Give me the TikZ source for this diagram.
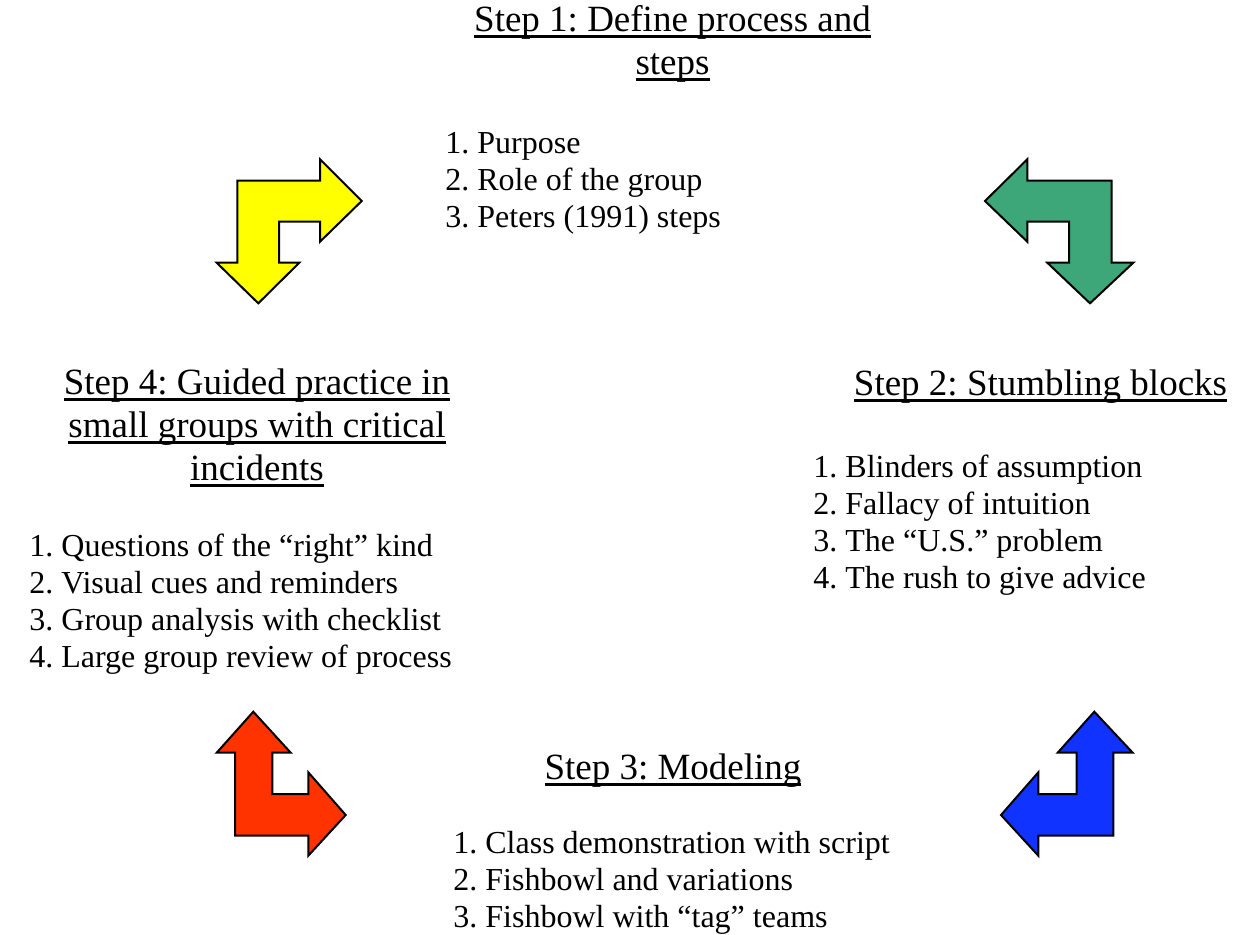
\documentclass[tikz,border=0pt]{standalone}
\usepackage{fontspec}
\setmainfont{Liberation Serif}
\usepackage{tikz}
\frenchspacing

\definecolor{turnyellow}{RGB}{255,255,0}
\definecolor{turngreen}{RGB}{61,167,122}
\definecolor{turnred}{RGB}{255,51,0}
\definecolor{turnblue}{RGB}{17,51,255}

% underlined title line
\newcommand{\stepul}[1]{\setbox0\hbox{#1}\rlap{\rule[-0.19em]{\wd0}{0.07em}}\box0}

\tikzset{
    steptitle/.style={font=\fontsize{18.5}{21.5}\selectfont, align=center, anchor=base, inner sep=0pt},
    steplist/.style={font=\fontsize{16}{18.5}\selectfont, align=left, anchor=base west, inner sep=0pt},
    turnarrow/.style={draw=black, line width=1pt, line join=miter}
}

\begin{document}
\begin{tikzpicture}[x=0.5pt, y=-0.5pt]
    \useasboundingbox (0,0) rectangle (1233,934);

    % step 1 (nodes sit on the baseline of their last line)
    \node[steptitle] (title1) at (672.5,74) {\stepul{Step 1: Define process and}\\ \stepul{steps}};
    \node[steplist] (list1) at (445,227.5) {1. Purpose\\ 2. Role of the group\\ 3. Peters (1991) steps};

    % step 2
    \node[steptitle] (title2) at (1040.5,395) {\stepul{Step 2: Stumbling blocks}};
    \node[steplist] (list2) at (813,588.5) {1. Blinders of assumption\\ 2. Fallacy of intuition\\ 3. The “U.S.” problem\\ 4. The rush to give advice};

    % step 3
    \node[steptitle] (title3) at (673,779) {\stepul{Step 3: Modeling}};
    \node[steplist] (list3) at (453,927) {1. Class demonstration with script\\ 2. Fishbowl and variations\\ 3. Fishbowl with “tag” teams};

    % step 4
    \node[steptitle] (title4) at (257,480) {\stepul{Step 4: Guided practice in}\\ \stepul{small groups with critical}\\ \stepul{incidents}};
    \node[steplist] (list4) at (29,667) {1. Questions of the “right” kind\\ 2. Visual cues and reminders\\ 3. Group analysis with checklist\\ 4. Large group review of process};

    % turning arrows
    \draw[turnarrow, fill=turnyellow] (237.3,180.7) -- (320,180.7) -- (320,159.3) -- (361.7,201) -- (320,241.7) -- (320,221.7) -- (279,221.7) -- (279,262.7) -- (299.3,262.7) -- (258.3,303.3) -- (216.7,262.7) -- (237.3,262.7) -- cycle;
    \draw[turnarrow, fill=turngreen] (1111.7,180.7) -- (1027.3,180.7) -- (1027.3,159.3) -- (985,201) -- (1027.3,241.7) -- (1027.3,221.7) -- (1069,221.7) -- (1069,262.7) -- (1047.3,262.7) -- (1090,303.3) -- (1133.3,262.7) -- (1111.7,262.7) -- cycle;
    \draw[turnarrow, fill=turnblue] (1113.3,835.7) -- (1038.3,835.7) -- (1038.3,855.7) -- (1001,815) -- (1038.3,772.3) -- (1038.3,794) -- (1076.7,794) -- (1076.7,752.7) -- (1057.7,752.7) -- (1094.3,711.7) -- (1132.7,752.7) -- (1113.3,752.7) -- cycle;
    \draw[turnarrow, fill=turnred] (235,835.7) -- (308.3,835.7) -- (308.3,855.7) -- (345.7,815) -- (308.3,772.3) -- (308.3,794) -- (272.3,794) -- (272.3,752.7) -- (290.7,752.7) -- (253.3,711.7) -- (216.7,752.7) -- (235,752.7) -- cycle;
\end{tikzpicture}
\end{document}
